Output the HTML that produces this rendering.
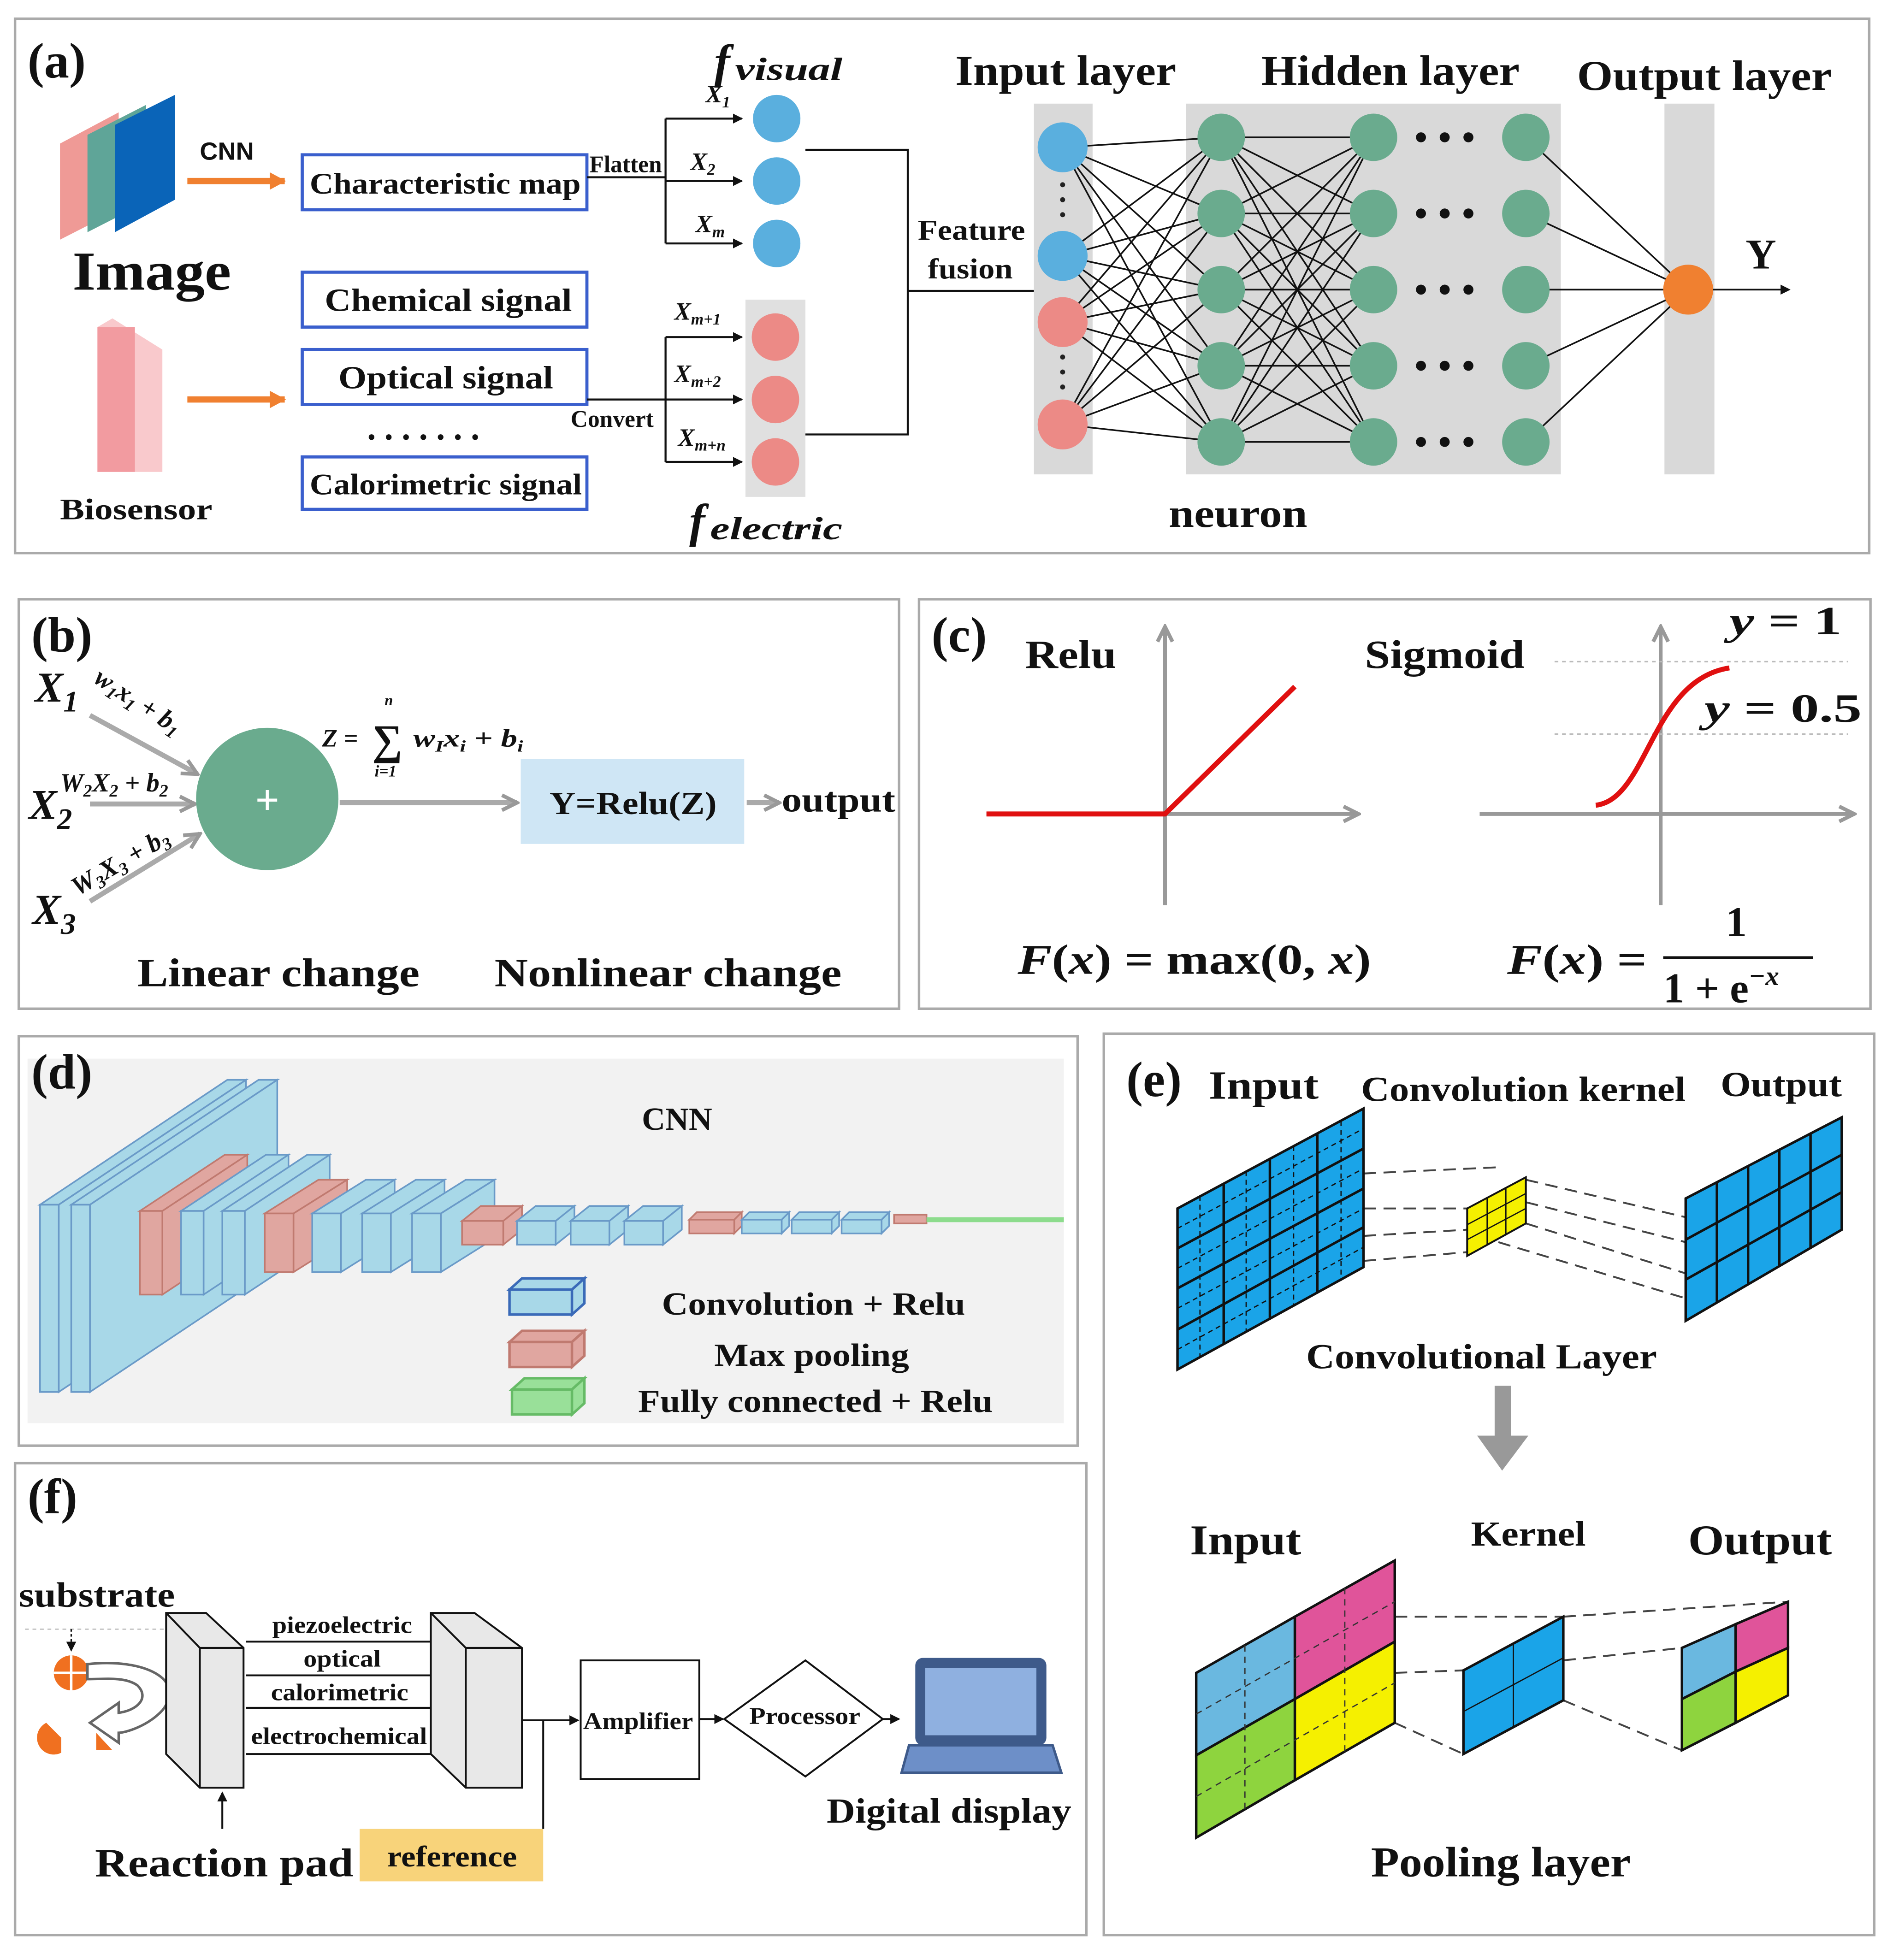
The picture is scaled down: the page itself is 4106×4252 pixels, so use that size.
<!DOCTYPE html>
<html><head><meta charset="utf-8"><style>
html,body{margin:0;padding:0;background:#fff}
svg{display:block}
text{font-family:"Liberation Serif",serif;font-weight:bold;fill:#111}
</style></head><body>
<svg width="4106" height="4252" viewBox="0 0 1516 1570" xmlns="http://www.w3.org/2000/svg">
<defs>
<marker id="ah" markerWidth="8" markerHeight="8" refX="7" refY="4" orient="auto" markerUnits="userSpaceOnUse"><path d="M0,0 L8,4 L0,8 z" fill="#111"/></marker>
<marker id="ahg" markerWidth="16" markerHeight="16" refX="14" refY="8" orient="auto" markerUnits="userSpaceOnUse"><path d="M2,2 L14,8 L2,14" fill="none" stroke="#999" stroke-width="3"/></marker>
<marker id="aho" markerWidth="14" markerHeight="14" refX="12" refY="7" orient="auto" markerUnits="userSpaceOnUse"><path d="M0,0 L13,7 L0,14 z" fill="#f08030"/></marker>
</defs>
<rect width="1516" height="1570" fill="#fff"/>
<g fill="none" stroke="#aaa" stroke-width="2">
<rect x="12" y="15" width="1485" height="428"/>
<rect x="15" y="480" width="705" height="328"/>
<rect x="736" y="480" width="762" height="328"/>
<rect x="15" y="830" width="848" height="328"/>
<rect x="884" y="828" width="617" height="722"/>
<rect x="12" y="1172" width="858" height="378"/>
</g>

<!-- ===== (a) ===== -->
<text x="22" y="62" font-size="40">(a)</text>
<polygon points="48,115 95,90 95,168 48,192" fill="#ef9a96"/>
<polygon points="70,108 117,84 117,162 70,186" fill="#5fa598"/>
<polygon points="92,100 140,76 140,160 92,186" fill="#0a64b8"/>
<text x="58" y="232" font-size="44" textLength="127" lengthAdjust="spacingAndGlyphs">Image</text>
<text x="160" y="128" font-size="20" font-weight="normal" style="font-family:'Liberation Sans',sans-serif">CNN</text>
<line x1="150" y1="145" x2="228" y2="145" stroke="#f08030" stroke-width="5" marker-end="url(#aho)"/>
<polygon points="78,262 90,255 130,280 130,378 78,378" fill="#f9c9cc"/>
<rect x="78" y="262" width="30" height="116" fill="#f29ba0"/>
<text x="48" y="416" font-size="24" textLength="122" lengthAdjust="spacingAndGlyphs">Biosensor</text>
<line x1="150" y1="320" x2="228" y2="320" stroke="#f08030" stroke-width="5" marker-end="url(#aho)"/>
<g fill="#fff" stroke="#3a5fcd" stroke-width="2.5">
<rect x="242" y="124" width="228" height="44"/>
<rect x="242" y="218" width="228" height="44"/>
<rect x="242" y="280" width="228" height="44"/>
<rect x="242" y="366" width="228" height="42"/>
</g>
<text x="248" y="155" font-size="24" textLength="217" lengthAdjust="spacingAndGlyphs">Characteristic map</text>
<text x="260" y="249" font-size="26" textLength="198" lengthAdjust="spacingAndGlyphs">Chemical signal</text>
<text x="271" y="311" font-size="26" textLength="172" lengthAdjust="spacingAndGlyphs">Optical signal</text>
<text x="248" y="396" font-size="24" textLength="218" lengthAdjust="spacingAndGlyphs">Calorimetric signal</text>
<text x="294" y="352" font-size="28" textLength="90" lengthAdjust="spacing">.......</text>
<text x="472" y="138" font-size="19">Flatten</text>
<text x="457" y="342" font-size="19">Convert</text>
<g stroke="#111" stroke-width="1.6" fill="none">
<line x1="470" y1="142" x2="533" y2="142"/>
<line x1="533" y1="95" x2="533" y2="195"/>
<line x1="533" y1="95" x2="594" y2="95" marker-end="url(#ah)"/>
<line x1="533" y1="145" x2="594" y2="145" marker-end="url(#ah)"/>
<line x1="533" y1="195" x2="594" y2="195" marker-end="url(#ah)"/>
<line x1="470" y1="320" x2="533" y2="320"/>
<line x1="533" y1="270" x2="533" y2="370"/>
<line x1="533" y1="270" x2="594" y2="270" marker-end="url(#ah)"/>
<line x1="533" y1="320" x2="594" y2="320" marker-end="url(#ah)"/>
<line x1="533" y1="370" x2="594" y2="370" marker-end="url(#ah)"/>
<polyline points="645,120 727,120 727,348 645,348"/>
<line x1="727" y1="233" x2="828" y2="233"/>
</g>
<g font-style="italic" font-size="20">
<text x="565" y="82">X<tspan font-size="13" dy="4">1</tspan></text>
<text x="553" y="136">X<tspan font-size="13" dy="4">2</tspan></text>
<text x="557" y="186">X<tspan font-size="13" dy="4">m</tspan></text>
<text x="540" y="256">X<tspan font-size="13" dy="4">m+1</tspan></text>
<text x="540" y="306">X<tspan font-size="13" dy="4">m+2</tspan></text>
<text x="543" y="357">X<tspan font-size="13" dy="4">m+n</tspan></text>
</g>
<text x="572" y="62" font-size="38" font-style="italic">f<tspan font-size="26" dy="2" dx="4" textLength="86" lengthAdjust="spacingAndGlyphs">visual</tspan></text>
<text x="552" y="430" font-size="38" font-style="italic">f<tspan font-size="26" dy="2" dx="4" textLength="106" lengthAdjust="spacingAndGlyphs">electric</tspan></text>
<g fill="#5aafde"><circle cx="622" cy="95" r="19"/><circle cx="622" cy="145" r="19"/><circle cx="622" cy="195" r="19"/></g>
<rect x="597" y="240" width="48" height="158" fill="#e0e0e0"/>
<g fill="#ec8a86"><circle cx="621" cy="270" r="19"/><circle cx="621" cy="320" r="19"/><circle cx="621" cy="370" r="19"/></g>
<text x="735" y="192" font-size="23" textLength="86" lengthAdjust="spacingAndGlyphs">Feature</text>
<text x="743" y="223" font-size="23" textLength="68" lengthAdjust="spacingAndGlyphs">fusion</text>
<rect x="828" y="83" width="47" height="297" fill="#d9d9d9"/>
<rect x="950" y="83" width="300" height="297" fill="#d9d9d9"/>
<rect x="1333" y="83" width="40" height="297" fill="#d9d9d9"/>
<g stroke="#111" stroke-width="1.3">
<line x1="851" y1="118" x2="978" y2="110"/><line x1="851" y1="118" x2="978" y2="171"/><line x1="851" y1="118" x2="978" y2="232"/><line x1="851" y1="118" x2="978" y2="293"/><line x1="851" y1="118" x2="978" y2="354"/>
<line x1="851" y1="205" x2="978" y2="110"/><line x1="851" y1="205" x2="978" y2="171"/><line x1="851" y1="205" x2="978" y2="232"/><line x1="851" y1="205" x2="978" y2="293"/><line x1="851" y1="205" x2="978" y2="354"/>
<line x1="851" y1="258" x2="978" y2="110"/><line x1="851" y1="258" x2="978" y2="171"/><line x1="851" y1="258" x2="978" y2="232"/><line x1="851" y1="258" x2="978" y2="293"/><line x1="851" y1="258" x2="978" y2="354"/>
<line x1="851" y1="340" x2="978" y2="110"/><line x1="851" y1="340" x2="978" y2="171"/><line x1="851" y1="340" x2="978" y2="232"/><line x1="851" y1="340" x2="978" y2="293"/><line x1="851" y1="340" x2="978" y2="354"/>
<line x1="978" y1="110" x2="1100" y2="110"/><line x1="978" y1="110" x2="1100" y2="171"/><line x1="978" y1="110" x2="1100" y2="232"/><line x1="978" y1="110" x2="1100" y2="293"/><line x1="978" y1="110" x2="1100" y2="354"/>
<line x1="978" y1="171" x2="1100" y2="110"/><line x1="978" y1="171" x2="1100" y2="171"/><line x1="978" y1="171" x2="1100" y2="232"/><line x1="978" y1="171" x2="1100" y2="293"/><line x1="978" y1="171" x2="1100" y2="354"/>
<line x1="978" y1="232" x2="1100" y2="110"/><line x1="978" y1="232" x2="1100" y2="171"/><line x1="978" y1="232" x2="1100" y2="232"/><line x1="978" y1="232" x2="1100" y2="293"/><line x1="978" y1="232" x2="1100" y2="354"/>
<line x1="978" y1="293" x2="1100" y2="110"/><line x1="978" y1="293" x2="1100" y2="171"/><line x1="978" y1="293" x2="1100" y2="232"/><line x1="978" y1="293" x2="1100" y2="293"/><line x1="978" y1="293" x2="1100" y2="354"/>
<line x1="978" y1="354" x2="1100" y2="110"/><line x1="978" y1="354" x2="1100" y2="171"/><line x1="978" y1="354" x2="1100" y2="232"/><line x1="978" y1="354" x2="1100" y2="293"/><line x1="978" y1="354" x2="1100" y2="354"/>
<line x1="1222" y1="110" x2="1352" y2="232"/><line x1="1222" y1="171" x2="1352" y2="232"/><line x1="1222" y1="232" x2="1352" y2="232"/><line x1="1222" y1="293" x2="1352" y2="232"/><line x1="1222" y1="354" x2="1352" y2="232"/>
<line x1="1372" y1="232" x2="1433" y2="232" marker-end="url(#ah)"/>
</g>
<g fill="#5aafde"><circle cx="851" cy="118" r="20"/><circle cx="851" cy="205" r="20"/></g>
<g fill="#ec8a86"><circle cx="851" cy="258" r="20"/><circle cx="851" cy="340" r="20"/></g>
<g fill="#222"><circle cx="851" cy="148" r="2"/><circle cx="851" cy="160" r="2"/><circle cx="851" cy="172" r="2"/><circle cx="851" cy="286" r="2"/><circle cx="851" cy="298" r="2"/><circle cx="851" cy="310" r="2"/></g>
<g fill="#6aab8e">
<circle cx="978" cy="110" r="19"/><circle cx="978" cy="171" r="19"/><circle cx="978" cy="232" r="19"/><circle cx="978" cy="293" r="19"/><circle cx="978" cy="354" r="19"/>
<circle cx="1100" cy="110" r="19"/><circle cx="1100" cy="171" r="19"/><circle cx="1100" cy="232" r="19"/><circle cx="1100" cy="293" r="19"/><circle cx="1100" cy="354" r="19"/>
<circle cx="1222" cy="110" r="19"/><circle cx="1222" cy="171" r="19"/><circle cx="1222" cy="232" r="19"/><circle cx="1222" cy="293" r="19"/><circle cx="1222" cy="354" r="19"/>
</g>
<g fill="#111">
<circle cx="1138" cy="110" r="4"/><circle cx="1157" cy="110" r="4"/><circle cx="1176" cy="110" r="4"/>
<circle cx="1138" cy="171" r="4"/><circle cx="1157" cy="171" r="4"/><circle cx="1176" cy="171" r="4"/>
<circle cx="1138" cy="232" r="4"/><circle cx="1157" cy="232" r="4"/><circle cx="1176" cy="232" r="4"/>
<circle cx="1138" cy="293" r="4"/><circle cx="1157" cy="293" r="4"/><circle cx="1176" cy="293" r="4"/>
<circle cx="1138" cy="354" r="4"/><circle cx="1157" cy="354" r="4"/><circle cx="1176" cy="354" r="4"/>
</g>
<circle cx="1352" cy="232" r="20" fill="#f08030"/>
<text x="1398" y="215" font-size="34">Y</text>
<text x="765" y="68" font-size="34" textLength="177" lengthAdjust="spacingAndGlyphs">Input layer</text>
<text x="1010" y="68" font-size="34" textLength="207" lengthAdjust="spacingAndGlyphs">Hidden layer</text>
<text x="1263" y="72" font-size="34" textLength="204" lengthAdjust="spacingAndGlyphs">Output layer</text>
<text x="936" y="422" font-size="32" textLength="111" lengthAdjust="spacingAndGlyphs">neuron</text>

<!-- ===== (b) ===== -->
<text x="25" y="522" font-size="40">(b)</text>
<g stroke="#aaa" stroke-width="4" fill="none">
<line x1="72" y1="573" x2="158" y2="620" marker-end="url(#ahg)"/>
<line x1="72" y1="644" x2="156" y2="644" marker-end="url(#ahg)"/>
<line x1="72" y1="722" x2="160" y2="668" marker-end="url(#ahg)"/>
<line x1="272" y1="643" x2="414" y2="643" marker-end="url(#ahg)"/>
<line x1="598" y1="643" x2="624" y2="643" marker-end="url(#ahg)"/>
</g>
<circle cx="214" cy="640" r="57" fill="#6aab8e"/>
<text x="214" y="652" font-size="34" text-anchor="middle" style="fill:#fff">+</text>
<g font-style="italic" font-size="34">
<text x="28" y="562">X<tspan font-size="24" dy="8">1</tspan></text>
<text x="23" y="656">X<tspan font-size="24" dy="8">2</tspan></text>
<text x="26" y="740">X<tspan font-size="24" dy="8">3</tspan></text>
</g>
<text font-size="21" font-style="italic" transform="translate(74,546) rotate(33)">w<tspan font-size="14" dy="4">1</tspan><tspan dy="-4">x</tspan><tspan font-size="14" dy="4">1</tspan><tspan dy="-4"> + b</tspan><tspan font-size="14" dy="4">1</tspan></text>
<text x="48" y="634" font-size="21" font-style="italic">W<tspan font-size="14" dy="4">2</tspan><tspan dy="-4">X</tspan><tspan font-size="14" dy="4">2</tspan><tspan dy="-4"> + b</tspan><tspan font-size="14" dy="4">2</tspan></text>
<text font-size="21" font-style="italic" transform="translate(62,718) rotate(-30)">W<tspan font-size="14" dy="4">3</tspan><tspan dy="-4">X</tspan><tspan font-size="14" dy="4">3</tspan><tspan dy="-4"> + b</tspan><tspan font-size="14" dy="4">3</tspan></text>
<text x="258" y="598" font-size="20" font-style="italic">Z =</text>
<text x="298" y="604" font-size="34" font-weight="normal">∑</text>
<text x="308" y="565" font-size="12" font-style="italic">n</text>
<text x="300" y="622" font-size="13" font-style="italic">i=1</text>
<text x="331" y="598" font-size="20" font-style="italic" textLength="88" lengthAdjust="spacingAndGlyphs">w<tspan font-size="13" dy="4">I</tspan><tspan dy="-4">x</tspan><tspan font-size="13" dy="4">i</tspan><tspan dy="-4"> + b</tspan><tspan font-size="13" dy="4">i</tspan></text>
<rect x="417" y="608" width="179" height="68" fill="#cfe6f5"/>
<text x="440" y="652" font-size="26" textLength="134" lengthAdjust="spacingAndGlyphs">Y=Relu(Z)</text>
<text x="626" y="650" font-size="28" textLength="91" lengthAdjust="spacingAndGlyphs">output</text>
<text x="110" y="790" font-size="32" textLength="226" lengthAdjust="spacingAndGlyphs">Linear change</text>
<text x="396" y="790" font-size="32" textLength="278" lengthAdjust="spacingAndGlyphs">Nonlinear change</text>

<!-- ===== (c) ===== -->
<text x="746" y="522" font-size="40">(c)</text>
<text x="821" y="535" font-size="32" textLength="73" lengthAdjust="spacingAndGlyphs">Relu</text>
<text x="1093" y="535" font-size="32" textLength="128" lengthAdjust="spacingAndGlyphs">Sigmoid</text>
<g stroke="#999" stroke-width="3" fill="none">
<line x1="933" y1="725" x2="933" y2="502" marker-end="url(#ahg)"/>
<line x1="790" y1="652" x2="1088" y2="652" marker-end="url(#ahg)"/>
<line x1="1330" y1="725" x2="1330" y2="502" marker-end="url(#ahg)"/>
<line x1="1185" y1="652" x2="1485" y2="652" marker-end="url(#ahg)"/>
</g>
<g stroke="#bbb" stroke-width="1.2" stroke-dasharray="3,3">
<line x1="1245" y1="530" x2="1480" y2="530"/>
<line x1="1245" y1="588" x2="1480" y2="588"/>
</g>
<polyline points="790,652 933,652 1037,550" fill="none" stroke="#e01010" stroke-width="4"/>
<path d="M1278,645 C1320,640 1322,545 1385,535" fill="none" stroke="#e01010" stroke-width="4"/>
<text x="1385" y="508" font-size="32" font-style="italic" textLength="90" lengthAdjust="spacingAndGlyphs">y <tspan font-style="normal">= 1</tspan></text>
<text x="1365" y="578" font-size="32" font-style="italic" textLength="126" lengthAdjust="spacingAndGlyphs">y <tspan font-style="normal">= 0.5</tspan></text>
<text x="815" y="780" font-size="34" textLength="283" lengthAdjust="spacingAndGlyphs"><tspan font-style="italic">F</tspan>(<tspan font-style="italic">x</tspan>) = max(0, <tspan font-style="italic">x</tspan>)</text>
<text x="1207" y="780" font-size="34" textLength="112" lengthAdjust="spacingAndGlyphs"><tspan font-style="italic">F</tspan>(<tspan font-style="italic">x</tspan>) =</text>
<text x="1382" y="750" font-size="34">1</text>
<line x1="1332" y1="767" x2="1452" y2="767" stroke="#111" stroke-width="2"/>
<text x="1332" y="803" font-size="34">1 + e<tspan font-size="22" dy="-14" font-style="italic">−x</tspan></text>

<!-- ===== (d) ===== -->
<rect x="22" y="848" width="830" height="292" fill="#f2f2f2"/>
<text x="25" y="872" font-size="40">(d)</text>
<text x="514" y="905" font-size="26">CNN</text>
<g stroke-width="1.3">
<g fill="#a8d8e8" stroke="#6a9ac8">
<polygon points="32,965 182,865 197,865 47,965"/><polygon points="47,965 197,865 197,1015 47,1115"/><rect x="32" y="965" width="15" height="150"/>
<polygon points="57,965 207,865 222,865 72,965"/><polygon points="72,965 222,865 222,1015 72,1115"/><rect x="57" y="965" width="15" height="150"/>
</g>
<g fill="#e0a6a0" stroke="#c07a70">
<polygon points="112,970 180,925 198,925 130,970"/><polygon points="130,970 198,925 198,992 130,1037"/><rect x="112" y="970" width="18" height="67"/>
</g>
<g fill="#a8d8e8" stroke="#6a9ac8">
<polygon points="145,970 213,925 231,925 163,970"/><polygon points="163,970 231,925 231,992 163,1037"/><rect x="145" y="970" width="18" height="67"/>
<polygon points="178,970 246,925 264,925 196,970"/><polygon points="196,970 264,925 264,992 196,1037"/><rect x="178" y="970" width="18" height="67"/>
</g>
<g fill="#e0a6a0" stroke="#c07a70">
<polygon points="212,972 255,945 278,945 235,972"/><polygon points="235,972 278,945 278,992 235,1019"/><rect x="212" y="972" width="23" height="47"/>
</g>
<g fill="#a8d8e8" stroke="#6a9ac8">
<polygon points="250,972 293,945 316,945 273,972"/><polygon points="273,972 316,945 316,992 273,1019"/><rect x="250" y="972" width="23" height="47"/>
<polygon points="290,972 333,945 356,945 313,972"/><polygon points="313,972 356,945 356,992 313,1019"/><rect x="290" y="972" width="23" height="47"/>
<polygon points="330,972 373,945 396,945 353,972"/><polygon points="353,972 396,945 396,992 353,1019"/><rect x="330" y="972" width="23" height="47"/>
</g>
<g fill="#e0a6a0" stroke="#c07a70">
<polygon points="370,978 385,966 418,966 403,978"/><polygon points="403,978 418,966 418,985 403,997"/><rect x="370" y="978" width="33" height="19"/>
</g>
<g fill="#a8d8e8" stroke="#6a9ac8">
<polygon points="414,978 429,966 460,966 445,978"/><polygon points="445,978 460,966 460,985 445,997"/><rect x="414" y="978" width="31" height="19"/>
<polygon points="457,978 472,966 503,966 488,978"/><polygon points="488,978 503,966 503,985 488,997"/><rect x="457" y="978" width="31" height="19"/>
<polygon points="500,978 515,966 546,966 531,978"/><polygon points="531,978 546,966 546,985 531,997"/><rect x="500" y="978" width="31" height="19"/>
</g>
<g fill="#e0a6a0" stroke="#c07a70">
<polygon points="552,977 558,971 594,971 588,977"/><polygon points="588,977 594,971 594,982 588,988"/><rect x="552" y="977" width="36" height="11"/>
</g>
<g fill="#a8d8e8" stroke="#6a9ac8">
<polygon points="594,977 600,971 632,971 626,977"/><polygon points="626,977 632,971 632,982 626,988"/><rect x="594" y="977" width="32" height="11"/>
<polygon points="634,977 640,971 672,971 666,977"/><polygon points="666,977 672,971 672,982 666,988"/><rect x="634" y="977" width="32" height="11"/>
<polygon points="674,977 680,971 712,971 706,977"/><polygon points="706,977 712,971 712,982 706,988"/><rect x="674" y="977" width="32" height="11"/>
</g>
<rect x="716" y="973" width="26" height="7" fill="#e0a6a0" stroke="#c07a70"/>
</g>
<line x1="742" y1="977" x2="852" y2="977" stroke="#8ddc8d" stroke-width="4"/>
<g stroke-width="2">
<g fill="#a8d8e8" stroke="#3a6ab8"><polygon points="408,1033 418,1024 468,1024 458,1033"/><polygon points="458,1033 468,1024 468,1044 458,1053"/><rect x="408" y="1033" width="50" height="20"/></g>
<g fill="#e0a6a0" stroke="#c07a70"><polygon points="408,1075 418,1066 468,1066 458,1075"/><polygon points="458,1075 468,1066 468,1086 458,1095"/><rect x="408" y="1075" width="50" height="20"/></g>
<g fill="#99e099" stroke="#66bb66"><polygon points="410,1113 420,1104 468,1104 458,1113"/><polygon points="458,1113 468,1104 468,1124 458,1133"/><rect x="410" y="1113" width="48" height="20"/></g>
</g>
<text x="530" y="1053" font-size="26" textLength="243" lengthAdjust="spacingAndGlyphs">Convolution + Relu</text>
<text x="572" y="1094" font-size="26" textLength="156" lengthAdjust="spacingAndGlyphs">Max pooling</text>
<text x="511" y="1131" font-size="26" textLength="284" lengthAdjust="spacingAndGlyphs">Fully connected + Relu</text>

<!-- ===== (e) ===== -->
<text x="902" y="878" font-size="40">(e)</text>
<text x="968" y="880" font-size="32" textLength="88" lengthAdjust="spacingAndGlyphs">Input</text>
<text x="1090" y="882" font-size="28" textLength="260" lengthAdjust="spacingAndGlyphs">Convolution kernel</text>
<text x="1378" y="878" font-size="28" textLength="97" lengthAdjust="spacingAndGlyphs">Output</text>
<g stroke="#444" stroke-width="1.5" stroke-dasharray="10,6" fill="none">
<line x1="1092" y1="940" x2="1200" y2="935"/><line x1="1092" y1="968" x2="1175" y2="968"/><line x1="1092" y1="990" x2="1175" y2="985"/><line x1="1092" y1="1010" x2="1175" y2="1003"/>
<line x1="1222" y1="945" x2="1350" y2="975"/><line x1="1222" y1="963" x2="1350" y2="995"/><line x1="1222" y1="980" x2="1350" y2="1020"/><line x1="1200" y1="995" x2="1350" y2="1040"/>
</g>
<polygon points="943,968 1092,888 1092,1015 943,1097" fill="#1aa4e8" stroke="#111" stroke-width="2"/>
<g stroke="#111" stroke-width="2">
<line x1="980" y1="948" x2="980" y2="1077"/><line x1="1017" y1="928" x2="1017" y2="1057"/><line x1="1055" y1="908" x2="1055" y2="1036"/>
<line x1="943" y1="1000" x2="1092" y2="920"/><line x1="943" y1="1032" x2="1092" y2="952"/><line x1="943" y1="1065" x2="1092" y2="983"/>
</g>
<g stroke="#111" stroke-width="1" stroke-dasharray="4,3">
<line x1="961" y1="958" x2="961" y2="1087"/><line x1="998" y1="938" x2="998" y2="1067"/><line x1="1036" y1="918" x2="1036" y2="1047"/><line x1="1074" y1="898" x2="1074" y2="1026"/>
<line x1="943" y1="984" x2="1092" y2="904"/><line x1="943" y1="1016" x2="1092" y2="936"/><line x1="943" y1="1048" x2="1092" y2="968"/><line x1="943" y1="1081" x2="1092" y2="999"/>
</g>
<polygon points="1175,968 1222,943 1222,980 1175,1006" fill="#f5f000" stroke="#111" stroke-width="1.5"/>
<g stroke="#111" stroke-width="1"><line x1="1191" y1="960" x2="1191" y2="997"/><line x1="1206" y1="951" x2="1206" y2="989"/><line x1="1175" y1="981" x2="1222" y2="956"/><line x1="1175" y1="993" x2="1222" y2="968"/></g>
<polygon points="1350,960 1475,895 1475,985 1350,1058" fill="#1aa4e8" stroke="#111" stroke-width="2"/>
<g stroke="#111" stroke-width="2">
<line x1="1375" y1="947" x2="1375" y2="1043"/><line x1="1400" y1="934" x2="1400" y2="1029"/><line x1="1425" y1="921" x2="1425" y2="1014"/><line x1="1450" y1="908" x2="1450" y2="1000"/>
<line x1="1350" y1="993" x2="1475" y2="925"/><line x1="1350" y1="1025" x2="1475" y2="955"/>
</g>
<text x="1046" y="1096" font-size="28" textLength="281" lengthAdjust="spacingAndGlyphs">Convolutional Layer</text>
<rect x="1197" y="1110" width="13" height="42" fill="#999"/>
<polygon points="1183,1150 1224,1150 1203,1178" fill="#999"/>
<text x="953" y="1245" font-size="34" textLength="89" lengthAdjust="spacingAndGlyphs">Input</text>
<text x="1178" y="1238" font-size="28" textLength="92" lengthAdjust="spacingAndGlyphs">Kernel</text>
<text x="1352" y="1245" font-size="34" textLength="115" lengthAdjust="spacingAndGlyphs">Output</text>
<g stroke="#444" stroke-width="1.5" stroke-dasharray="10,6" fill="none">
<line x1="1117" y1="1295" x2="1252" y2="1295"/><line x1="1117" y1="1340" x2="1172" y2="1338"/><line x1="1117" y1="1380" x2="1172" y2="1405"/>
<line x1="1252" y1="1295" x2="1432" y2="1283"/><line x1="1252" y1="1330" x2="1347" y2="1320"/><line x1="1252" y1="1362" x2="1347" y2="1402"/>
</g>
<g stroke="#111" stroke-width="2">
<polygon points="958,1340 1037,1295 1037,1361 958,1406" fill="#6ab8e0"/>
<polygon points="1037,1295 1117,1250 1117,1315 1037,1361" fill="#e0549a"/>
<polygon points="958,1406 1037,1361 1037,1426 958,1472" fill="#8ed43e"/>
<polygon points="1037,1361 1117,1315 1117,1380 1037,1426" fill="#f5f000"/>
</g>
<g stroke="#333" stroke-width="1" stroke-dasharray="5,4">
<line x1="997" y1="1318" x2="997" y2="1449"/><line x1="1077" y1="1272" x2="1077" y2="1403"/>
<line x1="958" y1="1373" x2="1117" y2="1283"/><line x1="958" y1="1439" x2="1117" y2="1348"/>
</g>
<polygon points="1172,1338 1252,1295 1252,1362 1172,1405" fill="#1aa4e8" stroke="#111" stroke-width="2"/>
<g stroke="#111" stroke-width="1"><line x1="1212" y1="1316" x2="1212" y2="1383"/><line x1="1172" y1="1371" x2="1252" y2="1328"/></g>
<g stroke="#111" stroke-width="2">
<polygon points="1347,1320 1390,1301 1390,1339 1347,1361" fill="#6ab8e0"/>
<polygon points="1390,1301 1432,1283 1432,1320 1390,1339" fill="#e0549a"/>
<polygon points="1347,1361 1390,1339 1390,1380 1347,1402" fill="#8ed43e"/>
<polygon points="1390,1339 1432,1320 1432,1358 1390,1380" fill="#f5f000"/>
</g>
<text x="1098" y="1503" font-size="34" textLength="208" lengthAdjust="spacingAndGlyphs">Pooling layer</text>

<!-- ===== (f) ===== -->
<text x="22" y="1212" font-size="40">(f)</text>
<text x="15" y="1287" font-size="28" textLength="125" lengthAdjust="spacingAndGlyphs">substrate</text>
<line x1="20" y1="1305" x2="135" y2="1305" stroke="#bbb" stroke-width="1" stroke-dasharray="3,3"/>
<line x1="57" y1="1305" x2="57" y2="1322" stroke="#111" stroke-width="1.2" stroke-dasharray="2,2" marker-end="url(#ah)"/>
<circle cx="57" cy="1340" r="14" fill="#f07020"/>
<line x1="43" y1="1340" x2="71" y2="1340" stroke="#fff" stroke-width="2"/><line x1="57" y1="1326" x2="57" y2="1354" stroke="#fff" stroke-width="2"/>
<path d="M37,1380 A12,12 0 0 0 49,1404 L49,1392 z" fill="#f07020"/>
<path d="M77,1388 L90,1402 L77,1402 z" fill="#f07020"/>
<path d="M70,1333 C115,1328 150,1345 130,1370 C118,1383 100,1388 95,1388 L95,1396 L72,1380 L95,1364 L95,1372 C110,1370 120,1360 110,1350 C100,1343 85,1345 70,1345 z" fill="#fff" stroke="#666" stroke-width="2"/>
<g stroke="#111" stroke-width="1.5">
<polygon points="133,1292 165,1292 195,1320 195,1432 160,1432 133,1405" fill="#e8e8e8"/>
<polyline points="133,1292 160,1320 160,1432" fill="none"/><line x1="160" y1="1320" x2="195" y2="1320"/>
<polygon points="345,1292 380,1292 418,1320 418,1432 373,1432 345,1405" fill="#e8e8e8"/>
<polyline points="345,1292 373,1320 373,1432" fill="none"/><line x1="373" y1="1320" x2="418" y2="1320"/>
<line x1="197" y1="1315" x2="345" y2="1315"/><line x1="197" y1="1342" x2="345" y2="1342"/><line x1="197" y1="1368" x2="345" y2="1368"/><line x1="197" y1="1405" x2="345" y2="1405"/>
<line x1="418" y1="1378" x2="463" y2="1378" marker-end="url(#ah)"/>
<line x1="435" y1="1465" x2="435" y2="1378"/>
<line x1="560" y1="1377" x2="579" y2="1377" marker-end="url(#ah)"/>
<line x1="707" y1="1377" x2="720" y2="1377" marker-end="url(#ah)"/>
<line x1="178" y1="1465" x2="178" y2="1436" marker-end="url(#ah)"/>
</g>
<text x="218" y="1308" font-size="19" textLength="112" lengthAdjust="spacingAndGlyphs">piezoelectric</text>
<text x="243" y="1335" font-size="19" textLength="62" lengthAdjust="spacingAndGlyphs">optical</text>
<text x="217" y="1362" font-size="19" textLength="110" lengthAdjust="spacingAndGlyphs">calorimetric</text>
<text x="201" y="1397" font-size="19" textLength="141" lengthAdjust="spacingAndGlyphs">electrochemical</text>
<rect x="465" y="1330" width="95" height="95" fill="#fff" stroke="#111" stroke-width="1.5"/>
<text x="467" y="1385" font-size="19" textLength="88" lengthAdjust="spacingAndGlyphs">Amplifier</text>
<polygon points="580,1377 645,1330 707,1377 645,1423" fill="#fff" stroke="#111" stroke-width="1.5"/>
<text x="600" y="1381" font-size="19" textLength="89" lengthAdjust="spacingAndGlyphs">Processor</text>
<rect x="733" y="1328" width="105" height="70" rx="6" fill="#3e5a8a"/>
<rect x="741" y="1336" width="89" height="54" fill="#8fb0e0"/>
<polygon points="728,1398 843,1398 850,1420 722,1420" fill="#6d8fc8" stroke="#3e5a8a" stroke-width="2"/>
<text x="662" y="1460" font-size="28" textLength="196" lengthAdjust="spacingAndGlyphs">Digital display</text>
<text x="76" y="1503" font-size="32" textLength="207" lengthAdjust="spacingAndGlyphs">Reaction pad</text>
<rect x="288" y="1465" width="147" height="42" fill="#f8d37a"/>
<text x="310" y="1495" font-size="24" textLength="104" lengthAdjust="spacingAndGlyphs">reference</text>
</svg>
</body></html>
